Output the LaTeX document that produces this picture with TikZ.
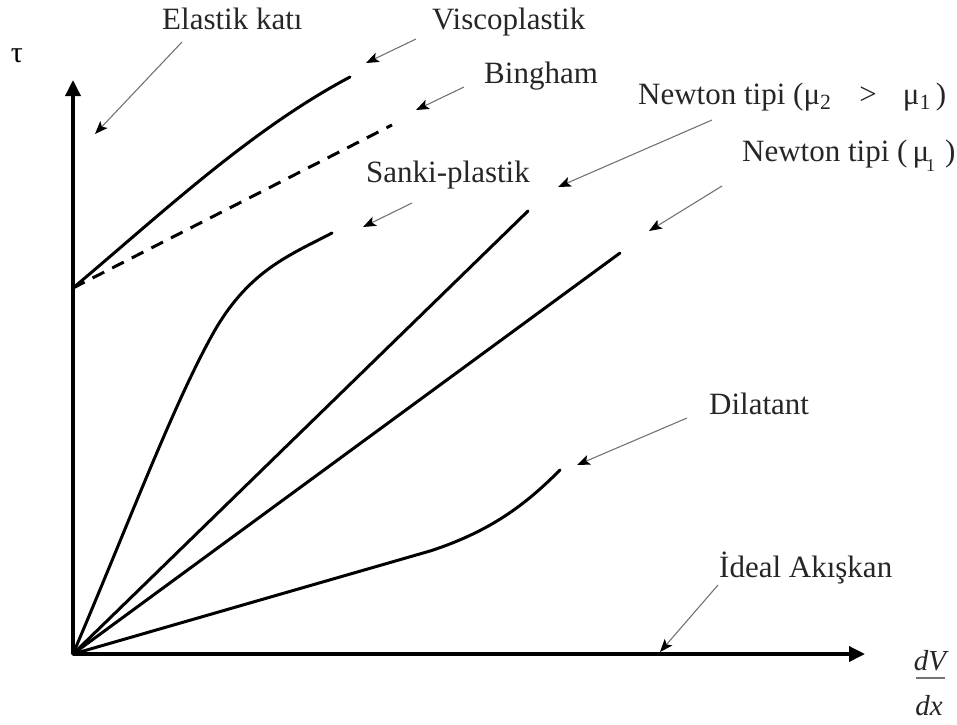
\documentclass[tikz,border=0pt]{standalone}
\usepackage{fontspec}
\setmainfont{Liberation Serif}
\usetikzlibrary{arrows.meta}
\begin{document}
\begin{tikzpicture}[x=1pt,y=-1pt,
  lbl/.style={anchor=base west,inner sep=0pt,font=\fontsize{31}{35}\selectfont,text=black!85},
  curve/.style={line width=3pt,line cap=round},
  axis/.style={line width=3.5pt,-{Triangle[length=16pt,width=15pt]}},
  pointer/.style={line width=1.1pt,draw=black!55,-{Stealth[length=13pt,width=10pt,inset=3pt,color=black]}}]
\useasboundingbox (0,0) rectangle (957,724);
% axes
\coordinate (O) at (73,654);
\coordinate (Ytip) at (73,80);
\coordinate (Xtip) at (865,654);
\coordinate (Y0) at (73,288);
\draw[axis] (O) -- (Ytip);
\draw[axis] (O) -- (Xtip);
\node[inner sep=0pt,anchor=base,font=\fontsize{30}{34}\selectfont] (tau) at (17,62) {τ};
\node[inner sep=0pt,anchor=base,font=\fontsize{29}{34}\selectfont\itshape,text=black!85] (dV) at (930,670) {dV};
\coordinate (barL) at (916,678);
\coordinate (barR) at (945,678);
\draw[line width=1.2pt,black!55] (barL) -- (barR);
\node[inner sep=0pt,anchor=base,font=\fontsize{29}{34}\selectfont\itshape,text=black!85] (dx) at (929,715) {dx};
% curves
\coordinate (viscoEnd) at (350,77);
\coordinate (binghamEnd) at (392,125);
\coordinate (sankiMid) at (215,330);
\coordinate (sankiEnd) at (332,233);
\coordinate (newtonTwoEnd) at (528,211);
\coordinate (newtonOneEnd) at (620,253);
\coordinate (dilMid) at (430,551);
\coordinate (dilEnd) at (560,470);
\draw[curve] (Y0) .. controls (160,215) and (250,130) .. (viscoEnd);
\draw[curve,line cap=butt,dash pattern=on 13pt off 9pt] (Y0) -- (binghamEnd);
\draw[curve] (O) .. controls (130,520) and (175,400) .. (sankiMid)
  .. controls (250,270) and (290,255) .. (sankiEnd);
\draw[curve] (O) -- (newtonTwoEnd);
\draw[curve] (O) -- (newtonOneEnd);
\draw[curve] (O) -- (dilMid) .. controls (495,530) and (530,500) .. (dilEnd);
% labels
\node[lbl] (elastik) at (162,29) {Elastik katı};
\node[lbl] (visco) at (432,29) {Viscoplastik};
\node[lbl] (bingham) at (484,83) {Bingham};
\node[lbl] (newtonTwo) at (638,104) {Newton tipi (μ\textsubscript{2}\hspace{28pt}>\hspace{26pt}μ\textsubscript{1}\hspace{5pt})};
\node[lbl] (newtonOne) at (742,161) {Newton tipi (\,μ\kern-0.1em\raisebox{-0.75ex}{\fontsize{18}{20}\selectfont 1}\hspace{10pt})};
\node[lbl] (sanki) at (366,182) {Sanki-plastik};
\node[lbl] (dilatant) at (709,414) {Dilatant};
\node[lbl] (ideal) at (719,577) {İdeal Akışkan};
% pointers
\coordinate (pElA) at (182,42);   \coordinate (pElB) at (95,134);
\coordinate (pViA) at (416,39);   \coordinate (pViB) at (366,63);
\coordinate (pBiA) at (464,87);   \coordinate (pBiB) at (416,110);
\coordinate (pN2A) at (712,120);  \coordinate (pN2B) at (558,187);
\coordinate (pN1A) at (722,186);  \coordinate (pN1B) at (649,231);
\coordinate (pSaA) at (412,203);  \coordinate (pSaB) at (363,227);
\coordinate (pDiA) at (687,418);  \coordinate (pDiB) at (577,465);
\coordinate (pIdA) at (718,585);  \coordinate (pIdB) at (660,652);
\draw[pointer] (pElA) -- (pElB);
\draw[pointer] (pViA) -- (pViB);
\draw[pointer] (pBiA) -- (pBiB);
\draw[pointer] (pN2A) -- (pN2B);
\draw[pointer] (pN1A) -- (pN1B);
\draw[pointer] (pSaA) -- (pSaB);
\draw[pointer] (pDiA) -- (pDiB);
\draw[pointer] (pIdA) -- (pIdB);
\end{tikzpicture}
\end{document}
